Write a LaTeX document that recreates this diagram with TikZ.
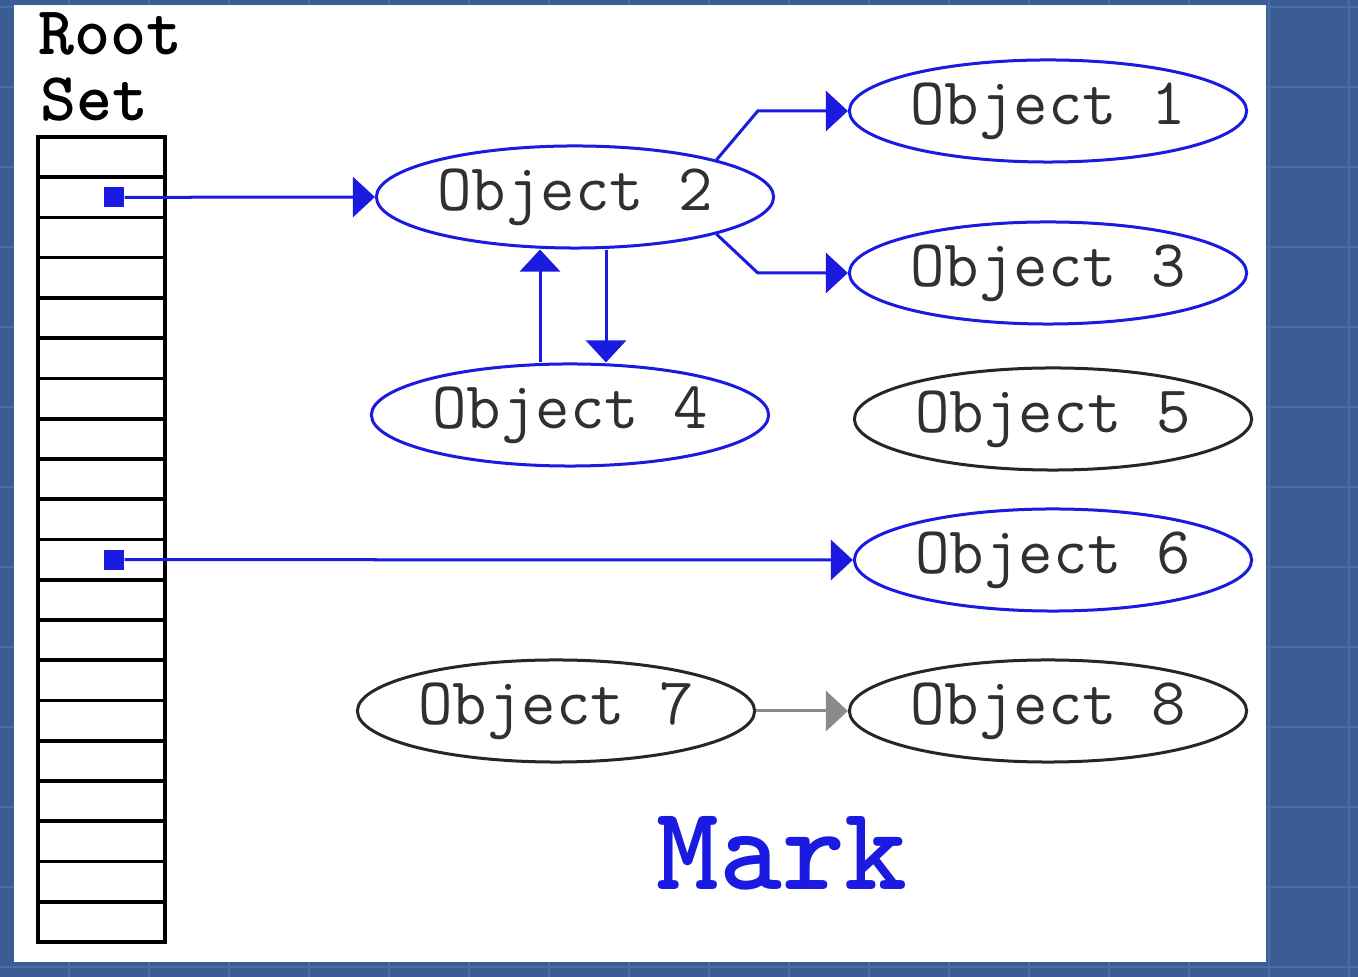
\documentclass[tikz,border=0pt]{standalone}
\usepackage{fontspec}
\usepackage{tikz}
\usetikzlibrary{arrows.meta,calc,positioning,shapes.geometric}
\definecolor{gcblue}{HTML}{1A1AE0}
\definecolor{gctext}{HTML}{303030}
\definecolor{gcgray}{HTML}{8A8A8A}
\definecolor{deskblue}{HTML}{3A5D95}
\definecolor{deskline}{HTML}{4A6DA5}

\begin{document}
\begin{tikzpicture}[
    x=0.01cm, y=-0.01cm,
    obj/.style={draw, ellipse, line width=0.03cm, minimum width=3.97cm,
                minimum height=1.02cm, inner sep=0pt, text=gctext,
                font=\ttfamily\fontsize{19}{22}\selectfont},
    live/.style={obj, draw=gcblue},
    dead/.style={obj, draw=black!85},
    slot/.style={draw, line width=0.035cm, minimum width=1.27cm,
                 minimum height=0.4025cm, inner sep=0pt},
    ptr/.style={fill=gcblue, minimum size=0.2cm, inner sep=0pt},
    ref/.style={-{Triangle[length=0.22cm, width=0.4cm]}, line width=0.03cm, gcblue},
    deadref/.style={-{Triangle[length=0.22cm, width=0.4cm]}, line width=0.03cm, gcgray},
    title/.style={font=\ttfamily\bfseries\fontsize{19.5}{22}\selectfont, inner sep=0pt},
]
\useasboundingbox (0,0) rectangle (1358,977);

% Screen and slide
\fill[deskblue] (0,0) rectangle (1358,977);
\foreach \gx in {69,149,...,1349}
  \draw[deskline, line width=0.02cm] (\gx,0) -- (\gx,977);
\foreach \gy in {7,87,...,967}
  \draw[deskline, line width=0.02cm] (0,\gy) -- (1358,\gy);
\fill[white] (14,5) rectangle (1266,962);

% Root set
\foreach \i in {1,...,20}
  \node[slot] (r\i) at (101.5,{137+40.25*(\i-0.5)}) {};
\node[ptr] (p2) at ($(r2.center)+(12.5,0)$) {};
\node[ptr] (p11) at ($(r11.center)+(12.5,0)$) {};

% Heap objects
\node[live] (o2) at (575,197) {Object 2};
\node[live] (o1) at (1048,111) {Object 1};
\node[live] (o3) at (1048,273) {Object 3};
\node[live] (o4) at (570,415) {Object 4};
\node[dead] (o5) at (1053,419) {Object 5};
\node[live] (o6) at (1053,560) {Object 6};
\node[dead] (o7) at (556,711) {Object 7};
\node[dead] (o8) at (1048,711) {Object 8};

% References
\draw[ref] (p2) -- (o2.west);
\draw[ref] (p11) -- (o6.west);
\draw[ref] (o2.north east) -- ([xshift=-0.9cm]o1.west) -- (o1.west);
\draw[ref] (o2.south east) -- ([xshift=-0.9cm]o3.west) -- (o3.west);
\coordinate (up) at ($(o4.north)+(-30,0)$);
\coordinate (dn) at ($(o4.north)+(36,0)$);
\draw[ref] (up) -- (up |- o2.south);
\draw[ref] (dn |- o2.south) -- (dn);
\draw[deadref] (o7) -- (o8);

% Labels
\node[title, anchor=base west] (rootlbl) at (38,55) {Root};
\node[title, anchor=base west] (setlbl) at (40,121) {Set};
\node[font=\ttfamily\bfseries\fontsize{34}{38}\selectfont, text=gcblue]
  (phase) at (782,853) {Mark};
\end{tikzpicture}
\end{document}
